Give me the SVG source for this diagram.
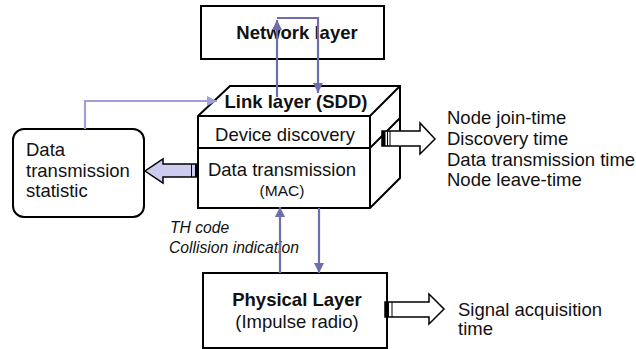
<svg xmlns="http://www.w3.org/2000/svg" width="636" height="349" viewBox="0 0 636 349">
<defs>
<style>
text{font-family:"Liberation Sans",Arial,sans-serif;fill:#111}
.b{font-weight:bold;font-size:18.5px}
.r{font-size:18.5px}
.s{font-size:15.5px}
.i{font-style:italic;font-size:15.7px}
.box{fill:#fff;stroke:#000;stroke-width:2}
.dk{fill:none;stroke:#6e6eaa;stroke-width:2.2}
.lt{fill:none;stroke:#a0a0d6;stroke-width:2.2}
.blk{fill:#fff;stroke:#000;stroke-width:1.5}
</style>
<marker id="ad" markerUnits="userSpaceOnUse" markerWidth="12" markerHeight="12" refX="10" refY="5" orient="auto"><path d="M0,0 L10,5 L0,10 Z" fill="#6e6eaa"/></marker>
<marker id="al" markerUnits="userSpaceOnUse" markerWidth="12" markerHeight="12" refX="10" refY="5" orient="auto"><path d="M0,0 L10,5 L0,10 Z" fill="#a0a0d6"/></marker>
</defs>
<g id="network">
<rect class="box" x="201" y="6" width="183" height="53"/>
<text class="b" x="297" y="39" text-anchor="middle">Network layer</text>
</g>
<g id="link">
<path class="box" d="M198,116 L230,86 L400,86 L400,178 L370,208 L198,208 Z"/>
<path fill="none" stroke="#000" stroke-width="2" d="M198,116 H370 L400,86 M370,116 V208 M198,148 H370 L400,118"/>
<text class="b" x="296" y="108" text-anchor="middle">Link layer (SDD)</text>
<text class="r" x="285" y="141" text-anchor="middle">Device discovery</text>
<text class="r" x="282" y="176" text-anchor="middle">Data transmission</text>
<text class="s" x="282" y="196" text-anchor="middle">(MAC)</text>
</g>
<g id="statistic">
<rect class="box" x="13" y="129" width="131" height="88" rx="11"/>
<text class="r" x="26" y="156">Data</text>
<text class="r" x="26" y="177">transmission</text>
<text class="r" x="26" y="197">statistic</text>
</g>
<g id="physical">
<rect class="box" x="203" y="273" width="184" height="75"/>
<text class="b" x="297" y="306" text-anchor="middle">Physical Layer</text>
<text class="r" x="297" y="328" text-anchor="middle">(Impulse radio)</text>
</g>
<g id="metrics">
<text class="r" x="447" y="124">Node join-time</text>
<text class="r" x="447" y="145">Discovery time</text>
<text class="r" x="447" y="166">Data transmission time</text>
<text class="r" x="447" y="186">Node leave-time</text>
<text class="r" x="458" y="316">Signal acquisition</text>
<text class="r" x="458" y="335">time</text>
<text class="i" x="170" y="233">TH code</text>
<text class="i" x="169" y="253">Collision indication</text>
</g>
<g id="connectors">
<path class="dk" d="M277,97 V20" marker-end="url(#ad)"/>
<path class="dk" d="M277,18 H318 V93" marker-end="url(#ad)"/>
<path class="dk" d="M280,273 V207" marker-end="url(#ad)"/>
<path class="dk" d="M319,208 V273" marker-end="url(#ad)"/>
<path class="lt" d="M85,129 V101 H217" marker-end="url(#al)"/>
<path d="M198,164 H163 V159 L145,171 L163,183 V177 H198 Z" fill="#ccccee" stroke="#000" stroke-width="1.5"/>
<rect x="195" y="164" width="3" height="13" fill="#000"/>
<line x1="191.5" y1="164" x2="191.5" y2="177" stroke="#000" stroke-width="1"/>
<path class="blk" d="M382,131 H420 V123 L435,139 L420,154 V146 H382 Z"/>
<rect x="382" y="131" width="3.5" height="15" fill="#000"/>
<line x1="387.5" y1="131" x2="387.5" y2="146" stroke="#000" stroke-width="1"/>
<line x1="390" y1="131" x2="390" y2="146" stroke="#000" stroke-width="1"/>
<path class="blk" d="M385,302 H429 V294 L444,309 L429,324 V317 H385 Z"/>
<rect x="385" y="302" width="4" height="15" fill="#000"/>
<line x1="392" y1="302" x2="392" y2="317" stroke="#000" stroke-width="1"/>
</g>
</svg>
